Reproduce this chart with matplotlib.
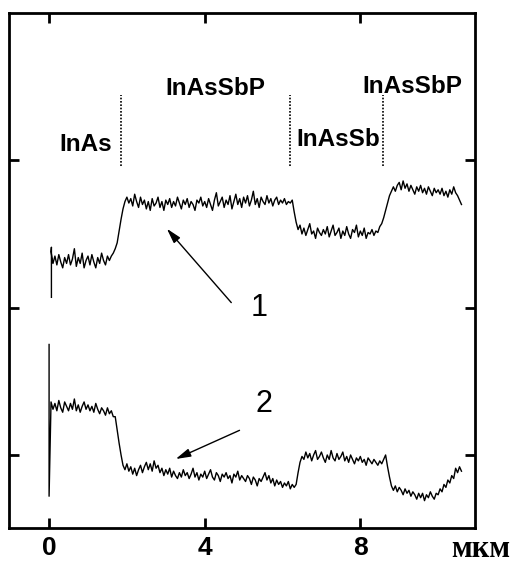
import numpy as np
import matplotlib.pyplot as plt

# depth profile, step 0.05 um starting at 0.05 um
x_step = 0.05
curve1 = [
    2.38, 2.30, 2.35, 2.29, 2.36, 2.31, 2.27, 2.34, 2.30, 2.36,
    2.29, 2.33, 2.40, 2.28, 2.34, 2.30, 2.37, 2.27, 2.32, 2.35,
    2.29, 2.36, 2.31, 2.27, 2.34, 2.30, 2.37, 2.32, 2.29, 2.35,
    2.32, 2.35, 2.37, 2.40, 2.44, 2.52, 2.60, 2.67, 2.72, 2.75,
    2.71, 2.74, 2.69, 2.77, 2.72, 2.68, 2.75, 2.70, 2.73, 2.67,
    2.72, 2.66, 2.74, 2.69, 2.71, 2.75, 2.68, 2.72, 2.66, 2.73,
    2.70, 2.74, 2.68, 2.72, 2.69, 2.75, 2.71, 2.67, 2.73, 2.70,
    2.74, 2.68, 2.72, 2.70, 2.66, 2.73, 2.71, 2.75, 2.69, 2.72,
    2.68, 2.74, 2.70, 2.66, 2.73, 2.78, 2.69, 2.72, 2.75, 2.68,
    2.73, 2.70, 2.76, 2.67, 2.72, 2.77, 2.70, 2.74, 2.68, 2.75,
    2.71, 2.76, 2.69, 2.73, 2.79, 2.70, 2.74, 2.68, 2.75, 2.72,
    2.70, 2.76, 2.71, 2.74, 2.69, 2.73, 2.75, 2.70, 2.73, 2.71,
    2.74, 2.70, 2.72, 2.71, 2.73, 2.65, 2.58, 2.53, 2.56, 2.50,
    2.54, 2.49, 2.53, 2.57, 2.50, 2.52, 2.47, 2.54, 2.51, 2.49,
    2.53, 2.50, 2.55, 2.48, 2.52, 2.56, 2.49, 2.51, 2.54, 2.47,
    2.52, 2.49, 2.55, 2.50, 2.47, 2.53, 2.51, 2.56, 2.48, 2.52,
    2.49, 2.54, 2.47, 2.51, 2.50, 2.53, 2.49, 2.52, 2.51, 2.55,
    2.57, 2.61, 2.66, 2.71, 2.76, 2.79, 2.82, 2.79, 2.83, 2.85,
    2.80, 2.86, 2.81, 2.84, 2.79, 2.83, 2.80, 2.77, 2.82, 2.79,
    2.83, 2.78, 2.81, 2.77, 2.82, 2.79, 2.76, 2.81, 2.78, 2.80,
    2.77, 2.81, 2.76, 2.79, 2.75, 2.80, 2.77, 2.82, 2.78, 2.76,
    2.73, 2.70,
]
curve2 = [
    1.36, 1.31, 1.35, 1.30, 1.37, 1.32, 1.29, 1.36, 1.33, 1.30,
    1.35, 1.31, 1.38, 1.30, 1.34, 1.29, 1.33, 1.36, 1.31, 1.34,
    1.30, 1.33, 1.29, 1.35, 1.31, 1.28, 1.32, 1.30, 1.27, 1.32,
    1.28, 1.30, 1.26, 1.26, 1.17, 1.08, 1.00, 0.93, 0.90, 0.94,
    0.89, 0.92, 0.87, 0.91, 0.86, 0.90, 0.93, 0.88, 0.92, 0.95,
    0.90, 0.94, 0.89, 0.96, 0.91, 0.93, 0.88, 0.91, 0.86, 0.90,
    0.87, 0.91, 0.85, 0.89, 0.86, 0.84, 0.88, 0.85, 0.90, 0.86,
    0.88, 0.84, 0.87, 0.91, 0.85, 0.88, 0.83, 0.87, 0.85, 0.89,
    0.84, 0.87, 0.90, 0.85, 0.83, 0.88, 0.86, 0.82, 0.87, 0.85,
    0.88, 0.84, 0.86, 0.81, 0.87, 0.85, 0.89, 0.83, 0.86, 0.84,
    0.82, 0.86, 0.84, 0.80, 0.85, 0.83, 0.79, 0.84, 0.82, 0.85,
    0.88, 0.83, 0.86, 0.81, 0.84, 0.79, 0.83, 0.80, 0.82, 0.78,
    0.81, 0.79, 0.82, 0.77, 0.80, 0.78, 0.80, 0.88, 0.95, 0.99,
    0.97, 1.02, 0.98, 1.01, 0.96, 1.00, 1.03, 0.97, 0.99, 1.02,
    0.98, 0.95, 1.00, 0.97, 1.03, 0.98, 0.96, 1.01, 0.97, 0.99,
    1.02, 0.96, 0.99, 0.95, 1.00, 0.97, 0.94, 0.98, 0.96, 0.99,
    0.95, 0.97, 0.93, 0.98, 0.96, 0.94, 0.97, 0.95, 0.93, 0.96,
    0.94, 0.97, 1.00, 0.92, 0.85, 0.79, 0.76, 0.79, 0.75, 0.78,
    0.76, 0.73, 0.77, 0.74, 0.76, 0.72, 0.75, 0.73, 0.70, 0.74,
    0.71, 0.74, 0.69, 0.73, 0.71, 0.75, 0.72, 0.70, 0.74, 0.73,
    0.77, 0.75, 0.80, 0.78, 0.83, 0.81, 0.86, 0.84, 0.91, 0.88,
    0.92, 0.89,
]
# vertical spikes at the start of each trace
spike1_x = [0.06, 0.06]
spike1_y = [2.07, 2.41]
spike2_x = [0.0, 0.0]
spike2_y = [1.75, 0.72]

# layer boundaries and labels
bounds = [1.84, 6.19, 8.58]
bound_y = [2.96, 3.44]
layer_names = ["InAs", "InAsSbP", "InAsSb", "InAsSbP"]
layer_x = [0.95, 4.28, 7.43, 9.33]
layer_y = [3.06, 3.44, 3.10, 3.46]

xticks = [0, 4, 8]
yticks = [1, 2, 3]

plt.rcParams['font.family'] = ['Liberation Sans', 'DejaVu Sans']

fig = plt.figure(figsize=(5.15, 5.64), dpi=100)
ax = fig.add_axes([0.0175, 0.064, 0.905, 0.913])

x1 = x_step * np.arange(1, len(curve1) + 1)
x2 = x_step * np.arange(1, len(curve2) + 1)
ax.plot(np.concatenate([spike1_x, x1]), np.concatenate([spike1_y, curve1]), color='black', lw=1.0)
ax.plot(np.concatenate([spike2_x, x2]), np.concatenate([spike2_y, curve2]), color='black', lw=1.0)

for b in bounds:
    ax.plot([b, b], bound_y, color='black', lw=1.2, linestyle=(0, (1, 1)))

for name, lx, ly in zip(layer_names, layer_x, layer_y):
    ax.text(lx, ly, name, ha='center', va='baseline', fontsize=17.5, fontweight='bold')

# curve numbers with arrows
ax.text(5.39, 1.94, "1", ha='center', va='baseline', fontsize=22)
ax.text(5.53, 1.29, "2", ha='center', va='baseline', fontsize=22)
ax.annotate('', xy=(2.98, 2.55), xytext=(4.73, 2.02),
            arrowprops=dict(arrowstyle='-|>,head_length=0.9,head_width=0.25', color='black', lw=1))
ax.annotate('', xy=(3.19, 0.965), xytext=(4.96, 1.175),
            arrowprops=dict(arrowstyle='-|>,head_length=0.9,head_width=0.25', color='black', lw=1))

ax.set_xlim(-1.03, 10.95)
ax.set_ylim(0.505, 4.0)
ax.set_xticks(xticks)
ax.set_xticklabels([str(t) for t in xticks], fontsize=19, fontweight='bold')
ax.set_yticks(yticks)
ax.set_yticklabels([])
ax.tick_params(direction='in', length=7, width=2, top=True, right=True, pad=6)
for s in ax.spines.values():
    s.set_linewidth(2)

fig.text(0.934, 0.0124, "мкм", ha='center', va='baseline', fontsize=22,
         fontweight='bold', family=['Liberation Serif', 'DejaVu Serif'])

fig.savefig('out.png', dpi=100)
